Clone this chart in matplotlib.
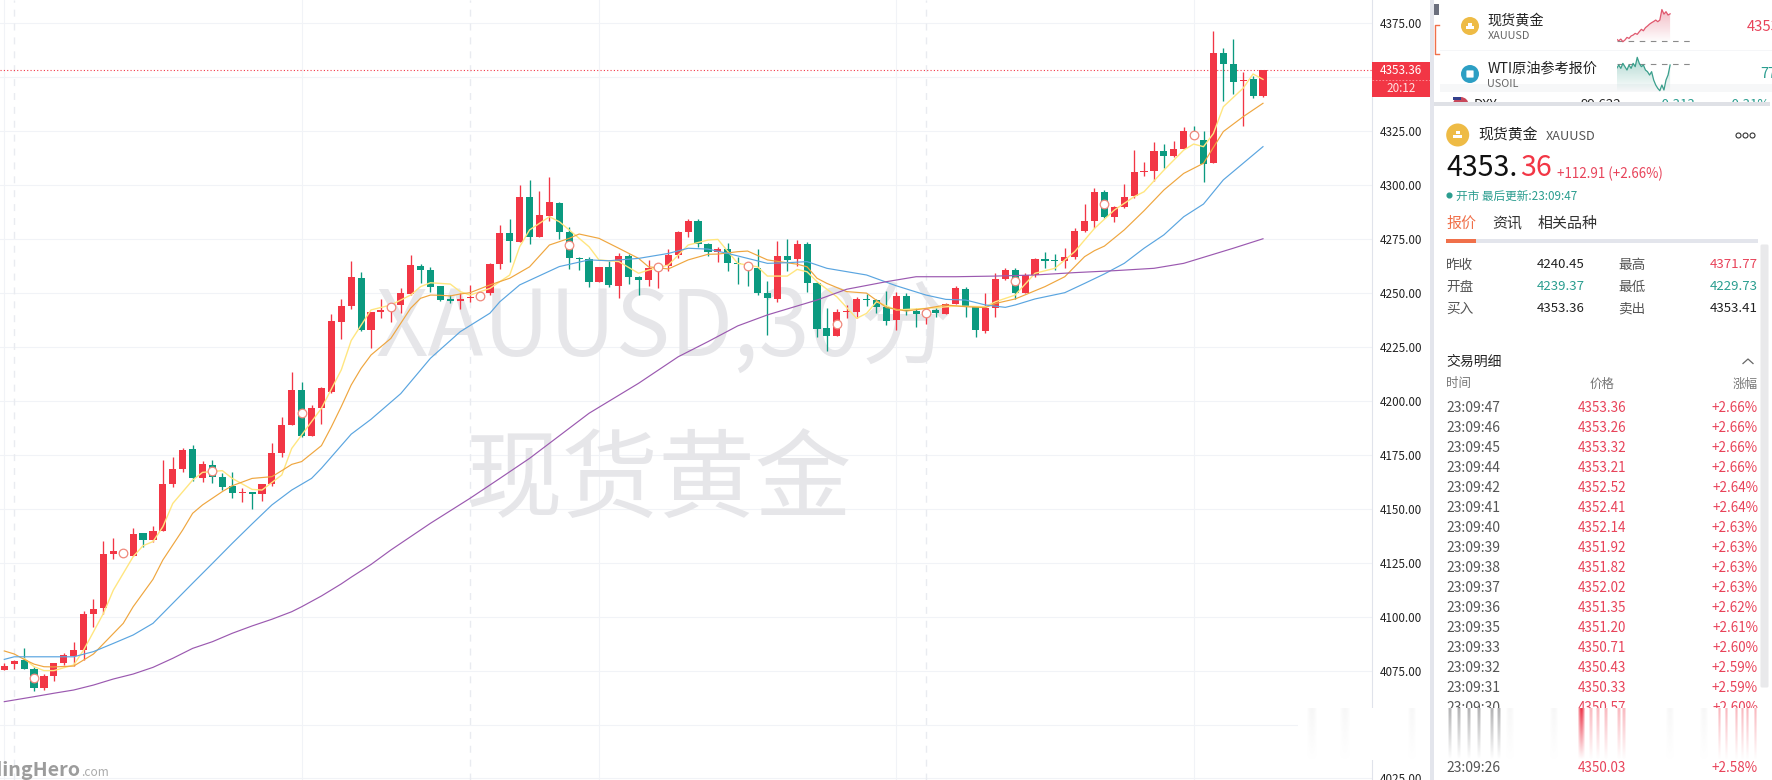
import numpy as np
import matplotlib
matplotlib.use('Agg')
import matplotlib.pyplot as plt
from matplotlib.patches import Circle, Rectangle, FancyBboxPatch

plt.rcParams['font.family'] = ['Noto Sans CJK SC', 'DejaVu Sans']

# 30 minute candles
opens = [4075.3, 4078.2, 4079.9, 4075.7, 4066.8, 4072.5, 4078.4, 4081.8, 4084.5, 4101.2,
         4103.9, 4129.0, 4128.7, 4128.1, 4138.6, 4135.5, 4139.9, 4161.5, 4168.5, 4177.7,
         4164.4, 4170.3, 4164.6, 4160.6, 4157.3, 4157.6, 4157.0, 4161.5, 4176.0, 4189.0,
         4205.1, 4183.8, 4196.7, 4204.2, 4236.8, 4244.0, 4257.0, 4232.9, 4241.4, 4242.8,
         4244.5, 4249.7, 4262.6, 4260.7, 4253.3, 4247.1, 4246.5, 4247.7, 4248.0, 4250.2,
         4263.5, 4277.7, 4273.9, 4294.6, 4275.9, 4285.8, 4291.6, 4278.2, 4266.1, 4265.7,
         4255.3, 4262.0, 4253.4, 4267.2, 4257.5, 4256.1, 4261.5, 4262.6, 4267.7, 4278.3,
         4283.4, 4272.8, 4269.2, 4270.3, 4264.0, 4263.2, 4261.6, 4249.9, 4247.4, 4267.2,
         4266.0, 4272.8, 4254.8, 4233.7, 4230.3, 4241.2, 4241.2, 4247.1, 4246.8, 4243.4,
         4237.5, 4248.7, 4241.7, 4240.2, 4242.0, 4240.5, 4244.9, 4251.9, 4244.0, 4232.4,
         4243.3, 4256.5, 4260.7, 4249.9, 4258.2, 4265.8, 4265.5, 4265.0, 4266.9, 4279.0,
         4283.6, 4296.9, 4285.3, 4289.9, 4295.0, 4306.0, 4306.6, 4315.9, 4313.7, 4317.0,
         4324.1, 4321.0, 4310.5, 4361.3, 4356.2, 4348.2, 4349.3, 4341.4]
highs = [4078.4, 4079.9, 4085.6, 4076.8, 4073.4, 4078.7, 4083.0, 4088.4, 4102.6, 4108.2,
         4134.9, 4136.3, 4130.9, 4140.9, 4138.6, 4142.0, 4172.6, 4173.9, 4178.0, 4179.6,
         4172.2, 4172.6, 4166.5, 4166.9, 4159.5, 4157.9, 4161.3, 4180.3, 4192.4, 4213.3,
         4208.6, 4198.1, 4206.6, 4240.3, 4247.1, 4264.9, 4259.6, 4241.1, 4247.1, 4245.0,
         4252.2, 4267.7, 4263.3, 4262.0, 4253.3, 4249.1, 4249.9, 4253.6, 4249.9, 4263.8,
         4281.4, 4284.4, 4300.1, 4302.4, 4297.3, 4303.7, 4292.1, 4280.5, 4266.9, 4266.9,
         4262.1, 4265.0, 4268.4, 4268.1, 4258.0, 4265.4, 4263.8, 4270.3, 4279.0, 4284.2,
         4284.2, 4273.4, 4271.2, 4273.1, 4266.6, 4264.1, 4270.4, 4255.6, 4274.0, 4274.9,
         4274.6, 4273.9, 4255.3, 4243.0, 4242.5, 4244.5, 4248.4, 4249.6, 4247.1, 4250.8,
         4250.4, 4250.2, 4242.9, 4242.5, 4242.9, 4245.6, 4253.3, 4253.0, 4244.0, 4249.9,
         4259.2, 4261.5, 4261.8, 4259.2, 4266.3, 4269.2, 4268.0, 4270.9, 4280.3, 4291.3,
         4298.7, 4297.8, 4290.4, 4300.6, 4316.4, 4310.6, 4320.0, 4319.0, 4320.5, 4326.9,
         4327.5, 4325.0, 4371.5, 4363.5, 4367.8, 4352.4, 4350.7, 4353.36]
lows = [4075.3, 4075.9, 4075.7, 4065.5, 4066.0, 4070.2, 4077.6, 4077.1, 4079.9, 4095.4,
        4101.1, 4126.7, 4127.8, 4128.1, 4132.4, 4134.8, 4139.9, 4160.3, 4167.2, 4162.9,
        4162.6, 4162.1, 4158.7, 4155.2, 4153.2, 4149.9, 4153.6, 4160.6, 4174.0, 4189.0,
        4183.5, 4183.8, 4189.3, 4203.8, 4228.9, 4242.8, 4232.6, 4224.7, 4238.5, 4236.6,
        4240.9, 4249.1, 4254.8, 4250.5, 4246.5, 4245.6, 4242.8, 4245.7, 4247.4, 4249.1,
        4261.2, 4264.3, 4273.9, 4272.8, 4275.9, 4283.6, 4275.1, 4261.0, 4260.7, 4253.0,
        4255.3, 4253.0, 4247.6, 4254.2, 4249.3, 4253.3, 4252.5, 4260.4, 4266.1, 4276.2,
        4271.5, 4267.4, 4264.6, 4260.4, 4254.2, 4253.3, 4249.1, 4230.6, 4246.0, 4260.4,
        4262.7, 4250.7, 4229.5, 4223.2, 4230.3, 4238.3, 4238.3, 4244.0, 4240.9, 4235.2,
        4232.9, 4239.9, 4234.4, 4235.7, 4239.0, 4240.5, 4244.9, 4239.0, 4229.8, 4231.7,
        4239.0, 4256.1, 4247.1, 4249.9, 4257.6, 4261.5, 4260.7, 4261.5, 4265.7, 4278.5,
        4280.2, 4285.0, 4283.0, 4289.3, 4294.3, 4304.5, 4302.1, 4308.0, 4313.3, 4316.8,
        4321.8, 4301.5, 4310.5, 4339.1, 4342.3, 4327.5, 4340.6, 4340.8]
closes = [4077.1, 4079.4, 4075.7, 4066.8, 4072.5, 4078.4, 4082.1, 4084.4, 4101.2, 4103.4,
          4129.0, 4130.4, 4130.0, 4138.3, 4135.5, 4139.5, 4161.5, 4168.3, 4177.3, 4164.4,
          4170.7, 4164.6, 4160.3, 4157.3, 4157.8, 4157.0, 4161.3, 4175.7, 4188.7, 4205.1,
          4183.8, 4196.7, 4206.0, 4237.1, 4244.0, 4257.5, 4232.9, 4241.1, 4242.2, 4244.0,
          4249.9, 4263.0, 4260.7, 4253.0, 4246.8, 4246.5, 4247.1, 4248.3, 4249.3, 4263.5,
          4277.7, 4274.3, 4294.6, 4276.2, 4286.2, 4292.2, 4278.5, 4266.1, 4265.7, 4255.3,
          4262.1, 4253.8, 4267.2, 4257.6, 4256.2, 4261.6, 4263.0, 4267.5, 4278.3, 4283.4,
          4272.6, 4269.1, 4270.3, 4264.1, 4263.5, 4262.0, 4250.1, 4247.9, 4267.2, 4265.4,
          4272.8, 4254.8, 4233.5, 4230.3, 4241.2, 4241.7, 4247.3, 4246.7, 4243.7, 4237.1,
          4248.7, 4241.7, 4240.5, 4241.7, 4240.9, 4244.9, 4252.4, 4243.6, 4232.9, 4243.3,
          4256.5, 4260.7, 4249.9, 4258.2, 4265.8, 4265.0, 4265.0, 4266.6, 4278.8, 4283.4,
          4296.9, 4285.3, 4289.9, 4294.6, 4306.0, 4306.6, 4315.9, 4313.7, 4316.8, 4325.2,
          4322.5, 4309.9, 4361.3, 4356.4, 4348.0, 4348.8, 4341.4, 4353.36]

# moving averages: candle number and level
ma_yellow_idx = [2, 3, 4, 5, 7, 8, 10, 11, 13, 14, 15, 16, 17, 19, 20, 22, 23, 25, 26, 28, 29, 30, 32, 34, 35,
                 37, 39, 41, 42, 43, 45, 46, 47, 49, 50, 51, 52, 53, 55, 56, 57, 59, 60, 62, 64, 65, 67, 69,
                 71, 72, 74, 76, 77, 79, 80, 81, 82, 84, 86, 87, 88, 90, 93, 96, 99, 100, 102, 104, 106, 108,
                 110, 112, 114, 115, 117, 119, 120, 121, 122, 123, 125, 126, 127]
ma_yellow = [4080.7, 4076.8, 4075.0, 4075.0, 4077.6, 4084.5, 4101.5, 4112.3, 4127.8, 4132.9, 4134.8, 4141.7,
             4152.5, 4163.3, 4166.9, 4167.7, 4164.1, 4159.0, 4158.7, 4165.7, 4178.0, 4184.2, 4196.6, 4214.4,
             4228.0, 4242.2, 4244.5, 4249.1, 4253.0, 4254.8, 4254.2, 4250.7, 4249.1, 4252.2, 4255.3, 4258.4,
             4271.5, 4279.3, 4285.4, 4283.1, 4279.3, 4271.5, 4265.4, 4264.6, 4259.2, 4260.7, 4263.0, 4272.3,
             4274.6, 4274.9, 4263.8, 4262.2, 4257.9, 4257.9, 4261.0, 4259.9, 4255.3, 4248.3, 4238.3, 4240.6,
             4246.0, 4242.2, 4242.9, 4244.0, 4243.7, 4246.0, 4249.1, 4259.2, 4261.5, 4269.2, 4280.0, 4288.5,
             4294.7, 4297.0, 4307.0, 4316.3, 4319.1, 4317.9, 4324.0, 4336.4, 4345.0, 4351.6, 4349.1]
ma_orange_idx = [0, 1, 2, 3, 4, 5, 7, 9, 12, 13, 15, 16, 18, 19, 20, 22, 23, 25, 27, 28, 29, 30, 32, 33, 34, 35,
                 36, 37, 39, 40, 41, 42, 43, 44, 45, 46, 47, 49, 51, 53, 55, 57, 58, 60, 62, 64, 65, 67, 69,
                 71, 72, 74, 75, 77, 80, 81, 82, 83, 85, 87, 89, 91, 93, 95, 97, 99, 100, 102, 105, 107, 109,
                 110, 111, 113, 115, 117, 119, 121, 123, 125, 127]
ma_orange = [4084.1, 4082.7, 4080.2, 4078.0, 4076.8, 4076.7, 4077.1, 4082.7, 4096.9, 4104.6, 4117.3, 4126.3,
             4140.2, 4147.9, 4151.8, 4158.0, 4160.7, 4164.1, 4164.9, 4167.7, 4170.6, 4171.9, 4179.3, 4188.0,
             4197.4, 4207.4, 4215.1, 4221.3, 4229.0, 4236.0, 4243.0, 4247.6, 4249.1, 4249.0, 4248.7, 4249.6,
             4250.2, 4253.8, 4256.9, 4262.2, 4272.3, 4275.4, 4277.4, 4275.4, 4270.8, 4266.1, 4262.2, 4261.2,
             4265.4, 4268.0, 4268.1, 4269.2, 4269.5, 4265.4, 4263.4, 4262.2, 4256.9, 4254.5, 4250.7, 4250.0,
             4243.3, 4241.7, 4242.9, 4244.5, 4243.7, 4243.3, 4245.2, 4247.3, 4253.0, 4257.6, 4266.9, 4269.7,
             4271.8, 4279.3, 4288.2, 4297.8, 4305.5, 4310.2, 4324.9, 4331.8, 4338.0]
ma_blue_idx = [0, 1, 3, 7, 9, 11, 13, 15, 17, 19, 21, 23, 25, 27, 29, 31, 32, 35, 37, 40, 43, 46, 49, 50, 52, 56,
               59, 61, 64, 67, 69, 71, 73, 75, 77, 79, 81, 83, 87, 90, 93, 95, 97, 99, 101, 102, 104, 107, 109,
               111, 113, 115, 117, 119, 121, 123, 125, 127]
ma_blue = [4080.2, 4081.4, 4081.4, 4081.4, 4083.8, 4087.6, 4091.5, 4096.9, 4106.2, 4115.5, 4124.7, 4134.0,
           4143.0, 4151.8, 4158.7, 4164.1, 4168.8, 4184.6, 4191.5, 4203.4, 4219.8, 4232.1, 4240.7, 4246.0,
           4253.8, 4262.3, 4265.4, 4265.0, 4266.1, 4268.4, 4270.8, 4270.4, 4268.4, 4266.1, 4263.8, 4264.1,
           4264.6, 4261.5, 4258.4, 4253.4, 4249.1, 4247.1, 4246.8, 4244.5, 4243.4, 4244.5, 4247.3, 4250.2,
           4254.5, 4258.9, 4263.8, 4270.8, 4277.0, 4285.4, 4291.3, 4302.5, 4310.2, 4317.9]
ma_purple_idx = [0, 3, 5, 7, 9, 11, 13, 15, 17, 19, 21, 23, 25, 27, 29, 30, 32, 34, 35, 37, 39, 43, 47, 50, 53,
                 59, 64, 68, 71, 74, 77, 82, 85, 89, 92, 96, 100, 104, 108, 112, 116, 119, 121, 124, 127]
ma_purple = [4060.6, 4062.9, 4064.5, 4066.0, 4068.3, 4071.1, 4073.4, 4076.5, 4080.7, 4085.3, 4088.4, 4092.3,
             4095.7, 4098.8, 4102.3, 4104.6, 4109.6, 4115.2, 4118.3, 4124.2, 4130.9, 4143.3, 4154.9, 4164.1,
             4173.4, 4194.3, 4208.2, 4220.5, 4227.5, 4234.8, 4239.9, 4246.8, 4251.8, 4255.3, 4257.6, 4257.6,
             4257.9, 4258.4, 4259.5, 4260.4, 4261.5, 4263.8, 4266.6, 4270.8, 4275.2]

# hollow session markers
mark_idx = [3, 12, 21, 30, 39, 48, 57, 66, 75, 84, 93, 102, 111, 120]
mark_price = [4071.4, 4129.3, 4167.7, 4194.6, 4243.4, 4248.7, 4272.3, 4262.3, 4262.6, 4235.8, 4240.9, 4255.6,
              4291.3, 4323.3]

tick_prices = [4025, 4050, 4075, 4100, 4125, 4150, 4175, 4200, 4225, 4250, 4275, 4300, 4325, 4350, 4375]
last_price = 4353.36

# side panel lists
spark_gold = [4246, 4240, 4247, 4236, 4243, 4254, 4250, 4260, 4264, 4271, 4267, 4278, 4288, 4282, 4295, 4302,
              4310, 4316, 4321, 4327, 4320, 4327, 4371, 4352, 4362, 4348, 4353]
spark_oil = [76.74, 76.94, 76.74, 77.04, 76.84, 76.64, 76.94, 76.74, 77.04, 76.84, 77.4, 77.04, 76.84, 76.94,
             76.64, 76.54, 76.34, 76.54, 76.04, 75.74, 75.54, 75.4, 75.74, 75.44, 76.04, 76.34, 76.94]
quote_labels = [['昨收', '最高'], ['开盘', '最低'], ['买入', '卖出']]
quote_values = [['4240.45', '4371.77'], ['4239.37', '4229.73'], ['4353.36', '4353.41']]
trade_rows = [0, 1, 2, 3, 4, 5, 6, 7, 8, 9, 10, 11, 12, 13, 14, 15, 18]
trade_times = ['23:09:47', '23:09:46', '23:09:45', '23:09:44', '23:09:42', '23:09:41', '23:09:40', '23:09:39',
               '23:09:38', '23:09:37', '23:09:36', '23:09:35', '23:09:33', '23:09:32', '23:09:31', '23:09:30',
               '23:09:26']
trade_prices = ['4353.36', '4353.26', '4353.32', '4353.21', '4352.52', '4352.41', '4352.14', '4351.92', '4351.82',
                '4352.02', '4351.35', '4351.20', '4350.71', '4350.43', '4350.33', '4350.57', '4350.03']
trade_pcts = ['+2.66%', '+2.66%', '+2.66%', '+2.66%', '+2.64%', '+2.64%', '+2.63%', '+2.63%', '+2.63%', '+2.63%',
              '+2.62%', '+2.61%', '+2.60%', '+2.59%', '+2.59%', '+2.60%', '+2.58%']

RED = '#f23645'
GREEN = '#0b9a80'
TEXT_RED = '#e8435a'
TEXT_GREEN = '#2a9d8f'
BAND = '#e3e5ec'
GOLD = '#eebb45'

fig = plt.figure(figsize=(17.72, 7.8), dpi=100, facecolor='white')

# main chart, price axis on the right
ax = fig.add_axes([0, 0, 1372 / 1772, 1])
ax.set_xlim(-0.434, 138.0)
ax.set_ylim(4024.28, 4385.89)
for side in ['top', 'left', 'bottom']:
    ax.spines[side].set_visible(False)
ax.spines['right'].set_color('#e0e3eb')
ax.set_xticks([])
ax.yaxis.tick_right()
ax.set_yticks(tick_prices)
ax.set_yticklabels(['%.2f' % p for p in tick_prices], fontsize=8.4, color='#222222')
ax.tick_params(axis='y', length=0, pad=5.8)

ax.hlines(tick_prices, -1, 139, color='#f1f3f7', lw=0.8, zorder=0.5)
for x in [0, 30, 60, 90, 120]:
    ax.axvline(x, color='#f1f3f7', lw=0.8, zorder=0.5)
for x in [1, 47, 93]:
    ax.axvline(x, color='#e9ebf0', lw=1.0, ls=(0, (5, 5)), zorder=0.5)

ax.text(66.6, 4221, 'XAUUSD,30分', fontsize=66, color='#e6e6e9', ha='center', va='baseline', zorder=1)
ax.text(66.05, 4162.4, '现货黄金', fontsize=69.6, color='#e6e6e9', ha='center', va='center', zorder=1)

# candles, red up and green down
xs = np.arange(len(closes))
o = np.array(opens)
c = np.array(closes)
colors = [RED if c[i] >= o[i] else GREEN for i in xs]
ax.vlines(xs, lows, highs, color=colors, lw=0.95, zorder=3)
ax.bar(xs, np.abs(c - o), bottom=np.minimum(o, c), width=0.72, color=colors, lw=0, zorder=3)

ax.plot(ma_yellow_idx, ma_yellow, color='#ffe680', lw=1.0, zorder=4)
ax.plot(ma_orange_idx, ma_orange, color='#efa63f', lw=0.85, zorder=4.1)
ax.plot(ma_blue_idx, ma_blue, color='#5aa5e0', lw=0.85, zorder=4.2)
ax.plot(ma_purple_idx, ma_purple, color='#9b59b0', lw=0.85, zorder=4.3)
ax.plot(mark_idx, mark_price, ls='none', marker='o', ms=6.2, mfc='white', mec='#f0897c', mew=0.9, zorder=5)
ax.axhline(last_price, color=RED, lw=0.8, ls=(0, (1, 2)), zorder=2)

# overlay in image pixels for the side panel
ov = fig.add_axes([0, 0, 1, 1])
ov.patch.set_visible(False)
ov.axis('off')


def label(x, y, s, size, color='#222222', ha='left', z=5, **kw):
    ov.text(x, y + 1, s, fontsize=size, color=color, ha=ha, va='center', zorder=z, **kw)


def box(x0, y0, x1, y1, color, z=1):
    ov.add_patch(Rectangle((x0, y0), x1 - x0, y1 - y0, fc=color, ec='none', zorder=z))


def gold_icon(x, y, r):
    ov.add_patch(Circle((x, y), r, fc=GOLD, ec='none', zorder=5))
    s = r * 0.34
    for dx, dy in [(-s * 0.55, -s * 1.0), (-s * 1.15, 0.1), (s * 0.05, 0.1)]:
        ov.add_patch(Rectangle((x + dx, y + dy), s * 1.1, s * 0.85, fc='white', ec='none', zorder=6))


# logo at lower left, cut by the image edge
label(80.5, 769, 'TradingHero', 14.2, color='#9c9c9c', ha='right', fontweight='bold')
label(81, 771, '.com', 8.6, color='#ababab')

# last price tag
box(1372, 61.7, 1430, 97, RED, z=4)
label(1400.7, 69.7, '4353.36', 8.4, color='white', ha='center')
ov.plot([1372, 1430], [79.5, 79.5], color='#ff9aa3', lw=0.6, ls=(0, (2, 2)), zorder=5)
label(1400.7, 87.7, '20:12', 8.4, color='#ffe3e3', ha='center')

# top list
box(1434, 0, 1772, 102, 'white')
box(1434, 4, 1439.5, 15, '#6b6f7d', z=2)
ov.plot([1439.5, 1435, 1435, 1439.5], [25, 25, 54, 54], color='#f0704a', lw=1.0, zorder=2)
box(1440, 49.5, 1772, 50.5, '#f5f6f8')
box(1440, 84, 1772, 92, '#f6f7f8')

gold_icon(1470, 26, 9)
label(1487.5, 20, '现货黄金', 10.2, color='#222222')
label(1487.5, 35, 'XAUUSD', 7.8, color='#666666')
label(1746.5, 26, '4353.36', 10.6, color=TEXT_RED)
ov.add_patch(Circle((1470, 74), 9, fc='#2d9fc4', ec='none', zorder=5))
ov.add_patch(FancyBboxPatch((1467, 71), 6, 6, boxstyle='round,pad=0.6', fc='white', ec='none', zorder=6))
label(1487.5, 68, 'WTI原油参考报价', 10.2, color='#222222')
label(1487.5, 83, 'USOIL', 7.8, color='#666666')
label(1760.7, 73, '77.50', 10.6, color=TEXT_GREEN)

# half hidden third row
ov.add_patch(Circle((1460.7, 105), 8, fc='#c8475a', ec='none', zorder=2))
ov.add_patch(Rectangle((1453, 97), 8, 3, fc='#34408c', ec='none', zorder=2.1))
label(1474, 104, 'DXY', 9.5, z=2)
label(1580, 104, '99.622', 9.5, z=2)
label(1657, 104, '-0.313', 9.5, color=TEXT_GREEN, z=2)
label(1727, 104, '-0.31%', 9.5, color=TEXT_GREEN, z=2)

box(1434, 102, 1772, 780, 'white', z=3)
box(1434, 102, 1770, 105.5, '#dfe1e6', z=4)

# quote header
gold_icon(1457.7, 135, 11.5)
label(1478.3, 134.5, '现货黄金', 10.7, color='#222222')
label(1546, 136, 'XAUUSD', 9.2, color='#555555')
ov.plot([1738, 1745, 1752], [135, 135, 135], ls='none', marker='o', ms=3.6, mfc='white', mec='#333333', mew=0.8,
        zorder=5)
label(1446, 166.5, '4353.', 20.5, color='#111111')
label(1520, 166.5, '36', 20.5, color=RED)
label(1556.7, 172.5, '+112.91 (+2.66%)', 9.6, color=TEXT_RED)
ov.plot([1449], [195], ls='none', marker='o', ms=3.4, color=TEXT_GREEN, zorder=5)
label(1456, 195, '开市 最后更新:23:09:47', 8.4, color=TEXT_GREEN)

label(1446, 223, '报价', 10.8, color='#f0704a')
label(1492, 223, '资讯', 10.8, color='#333333')
label(1538, 223, '相关品种', 10.8, color='#333333')
box(1446, 239, 1758, 243, BAND, z=4)
box(1446, 239, 1476, 243, '#f0704a', z=5)
ov.add_patch(FancyBboxPatch((1762, 246), 5, 440, boxstyle='round,pad=1.5', fc='#e9e9eb', ec='none', zorder=4))

# quote table
for row, yy in enumerate([264, 286, 308]):
    label(1446, yy, quote_labels[row][0], 9.8, color='#555555')
    label(1618.3, yy, quote_labels[row][1], 9.8, color='#555555')
    label(1536.7, yy, quote_values[row][0], 9.5, color=TEXT_GREEN if row == 1 else '#222222')
    right_color = [TEXT_RED, TEXT_GREEN, '#222222'][row]
    label(1757.3, yy, quote_values[row][1], 9.5, color=right_color, ha='right')

# trade list
label(1446, 361, '交易明细', 10, color='#222222')
ov.plot([1743, 1748, 1753], [363.5, 359, 363.5], color='#666666', lw=0.9, zorder=5)
label(1446, 383, '时间', 9, color='#777777')
label(1601.7, 383, '价格', 9, color='#777777', ha='center')
label(1758, 383, '涨幅', 9, color='#777777', ha='right')
for row, t, p, pct in zip(trade_rows, trade_times, trade_prices, trade_pcts):
    yy = 406.7 + row * 20
    label(1446, yy, t, 10, color='#555555')
    label(1601.7, yy, p, 9.7, color=TEXT_RED, ha='center')
    label(1758, yy, pct, 9.7, color=TEXT_RED, ha='right')

# smeared strip near the bottom
box(1298, 708, 1772, 760, 'white', z=6)
streak_x = [1449.6, 1458.8, 1468.6, 1478.9, 1492.4, 1499, 1591, 1598, 1605.7, 1619, 1624, 1720, 1727, 1737, 1743,
            1748, 1755.6, 1582, 1510, 1554.5, 1670, 1704, 1412, 1312, 1345]
streak_w = [4, 4, 4, 4, 4, 4, 3.5, 3.5, 3.5, 3.5, 3.5, 3, 3, 3, 3, 3, 3, 7, 8, 8, 8, 8, 8, 10, 10]
streak_rgb = [(0.55, 0.55, 0.56)] * 6 + [(0.96, 0.45, 0.5)] * 11 + [(0.93, 0.2, 0.28)] + [(0.9, 0.9, 0.9)] * 7
streak_top = [0.75] * 6 + [0.55] * 11 + [1.0] + [0.3] * 5 + [0.35, 0.3]
for sx, sw, rgb, top in zip(streak_x, streak_w, streak_rgb, streak_top):
    fade = np.linspace(top, 0, 40)[:, None] * np.sin(np.linspace(0.2, np.pi - 0.2, 9))[None, :]
    img = np.zeros((40, 9, 4))
    img[..., :3] = rgb
    img[..., 3] = fade
    ov.imshow(img, extent=(sx - sw / 2, sx + sw / 2, 760, 708), aspect='auto', zorder=7, interpolation='bilinear')

box(1430, 0, 1434, 780, BAND, z=8)
ov.set_xlim(0, 1772)
ov.set_ylim(780, 0)


# small price sparks in the top list
def spark(y0, y1, values, ymin, ymax, base, color, fill_to):
    sp = fig.add_axes([1616.7 / 1772, 1 - y1 / 780, 76 / 1772, (y1 - y0) / 780])
    sp.patch.set_visible(False)
    sp.axis('off')
    px = np.arange(len(values))
    sp.plot(px, values, color=color, lw=0.9, zorder=3)
    sp.plot([0, 37], [base, base], color='#8a8a8a', lw=0.8, ls=(0, (5, 5)), zorder=2)
    shape = sp.fill_between(px, values, fill_to, color='none')
    grad = np.zeros((40, 2, 4))
    grad[..., :3] = matplotlib.colors.to_rgb(color)
    grad[..., 3] = np.linspace(0.4, 0.0, 40)[:, None]
    im = sp.imshow(grad, extent=(0, 26, ymin, max(values)), aspect='auto', zorder=1)
    im.set_clip_path(shape.get_paths()[0], transform=sp.transData)
    sp.set_xlim(0, 37)
    sp.set_ylim(ymin, ymax)


spark(6.7, 43.3, spark_gold, 4229.3, 4383, 4240.45, '#e0586e', 4240.45)
spark(55, 91.7, spark_oil, 75.34, 77.54, 77.0, '#3a9f8c', 75.34)

fig.savefig('out.png', dpi=100)
